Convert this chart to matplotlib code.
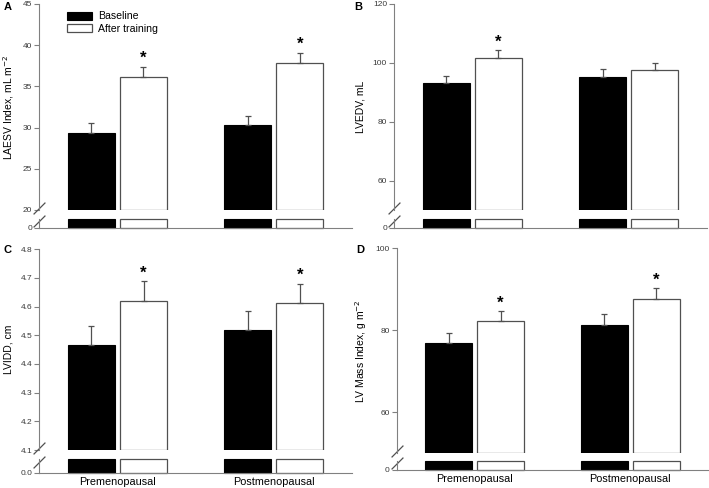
import numpy as np
import matplotlib
matplotlib.use("Agg")
import matplotlib.pyplot as plt
from matplotlib.patches import Patch

plt.rcParams['font.family'] = ['Liberation Sans', 'DejaVu Sans']

# data (mean, SE)
groups = ['Premenopausal', 'Postmenopausal']

laesv_base = [29.4, 30.3]
laesv_base_err = [1.1, 1.1]
laesv_train = [36.2, 37.9]
laesv_train_err = [1.2, 1.2]
laesv_sig = [True, True]

lvedv_base = [93.1, 95.3]
lvedv_base_err = [2.6, 2.5]
lvedv_train = [101.7, 97.5]
lvedv_train_err = [2.5, 2.6]
lvedv_sig = [True, False]

lvidd_base = [4.466, 4.520]
lvidd_base_err = [0.065, 0.066]
lvidd_train = [4.621, 4.614]
lvidd_train_err = [0.068, 0.066]
lvidd_sig = [True, True]

lvmass_base = [76.8, 81.4]
lvmass_base_err = [2.6, 2.5]
lvmass_train = [82.2, 87.7]
lvmass_train_err = [2.5, 2.5]
lvmass_sig = [True, True]

W, H = 709, 488
fig = plt.figure(figsize=(W / 100, H / 100), dpi=100)

GRAY = '#808080'
EDGE = '#505050'
TXT = '#3a3a3a'
bw = 0.3
off = 0.167


def rect(x0, x1, ytop, ybot):
    # pixel box -> figure fraction
    return [x0 / W, 1 - ybot / H, (x1 - x0) / W, (ybot - ytop) / H]


def panel(main_box, stub_box, base, base_err, train, train_err, sig,
          ylim, yticks, fmt, zero_lbl, ylabel, xlabels):
    ax = fig.add_axes(rect(*main_box))
    st = fig.add_axes(rect(*stub_box))
    x = np.arange(len(groups))
    lo = ylim[0]

    ax.bar(x - off, np.array(base) - lo, bw, bottom=lo, color='black', edgecolor='black', lw=0.8)
    ax.bar(x + off, np.array(train) - lo, bw, bottom=lo, color='white', edgecolor=EDGE, lw=0.9)
    ax.errorbar(x - off, base, yerr=[np.zeros(2), base_err], fmt='none', ecolor=EDGE,
                elinewidth=0.9, capsize=2.5, capthick=0.9)
    ax.errorbar(x + off, train, yerr=[np.zeros(2), train_err], fmt='none', ecolor=EDGE,
                elinewidth=0.9, capsize=2.5, capthick=0.9)
    for i in range(len(groups)):
        if sig[i]:
            ax.annotate('*', (x[i] + off, train[i] + train_err[i]), xytext=(0, 0.5),
                        textcoords='offset points', ha='center', va='bottom',
                        fontsize=12, fontweight='bold', color='black')

    ax.set_xlim(-0.5, 1.5)
    ax.set_ylim(*ylim)
    ax.set_yticks(yticks)
    ax.set_yticklabels([fmt.format(t) for t in yticks])
    ax.set_xticks([])
    for s in ['top', 'right', 'bottom']:
        ax.spines[s].set_visible(False)
    ax.spines['left'].set_color(GRAY)
    ax.tick_params(axis='y', length=3.5, width=0.8, color=GRAY, labelsize=6,
                   labelcolor=TXT, pad=1.5)
    ax.set_ylabel(ylabel, fontsize=7.5, labelpad=5)

    # stub below the break
    st.bar(x - off, [1, 1], bw, color='black', edgecolor='black', lw=0.8, clip_on=False)
    st.bar(x + off, [1, 1], bw, color='white', edgecolor=EDGE, lw=0.9, clip_on=False)
    st.set_xlim(-0.5, 1.5)
    st.set_ylim(0, 1)
    st.set_yticks([0])
    st.set_yticklabels([zero_lbl])
    for s in ['top', 'right']:
        st.spines[s].set_visible(False)
    st.spines['left'].set_color(GRAY)
    st.spines['bottom'].set_color(GRAY)
    st.tick_params(axis='y', length=3.5, width=0.8, color=GRAY, labelsize=6,
                   labelcolor=TXT, pad=1.5)
    if xlabels:
        st.set_xticks(x)
        st.set_xticklabels(groups, fontsize=7.8)
        st.tick_params(axis='x', length=0, pad=3)
    else:
        st.set_xticks([])

    # break marks
    kw = dict(marker=[(-1, -1), (1, 1)], markersize=8.5, ls='none', color=EDGE,
              mec=EDGE, mew=0.9, clip_on=False)
    ax.plot([0], [0.01], transform=ax.transAxes, **kw)
    st.plot([0], [0.75], transform=st.transAxes, **kw)
    return ax, st


axA, _ = panel((39, 352, 4, 210), (39, 352, 218.7, 228),
               laesv_base, laesv_base_err, laesv_train, laesv_train_err, laesv_sig,
               (20, 45), [20, 25, 30, 35, 40, 45], '{:.0f}', '0',
               'LAESV Index, mL m$^{-2}$', False)
panel((394, 707, 4, 210), (394, 707, 218.7, 228),
      lvedv_base, lvedv_base_err, lvedv_train, lvedv_train_err, lvedv_sig,
      (50, 120), [60, 80, 100, 120], '{:.0f}', '0', 'LVEDV, mL', False)
panel((39.3, 352, 249.3, 450), (39.3, 352, 458.7, 472.7),
      lvidd_base, lvidd_base_err, lvidd_train, lvidd_train_err, lvidd_sig,
      (4.1, 4.8), [4.1, 4.2, 4.3, 4.4, 4.5, 4.6, 4.7, 4.8], '{:.1f}', '0.0',
      'LVIDD, cm', True)
panel((396.7, 708, 248.3, 453.3), (396.7, 708, 461.3, 470),
      lvmass_base, lvmass_base_err, lvmass_train, lvmass_train_err, lvmass_sig,
      (50, 100), [60, 80, 100], '{:.0f}', '0', 'LV Mass Index, g m$^{-2}$', True)

handles = [Patch(facecolor='black', edgecolor='black', lw=0.8),
           Patch(facecolor='white', edgecolor=EDGE, lw=0.9)]
axA.legend(handles, ['Baseline', 'After training'], loc='upper left',
           bbox_to_anchor=(0.065, 1.0), frameon=False, fontsize=7.6,
           handlelength=2.4, handleheight=0.75, handletextpad=0.6,
           labelspacing=0.25, borderaxespad=0.3)

for lbl, px, py in [('A', 8, 7), ('B', 358, 7), ('C', 8, 250), ('D', 360, 250)]:
    fig.text(px / W, 1 - py / H, lbl, fontsize=8, fontweight='bold', ha='center', va='center')

fig.savefig('out.png', dpi=100)
